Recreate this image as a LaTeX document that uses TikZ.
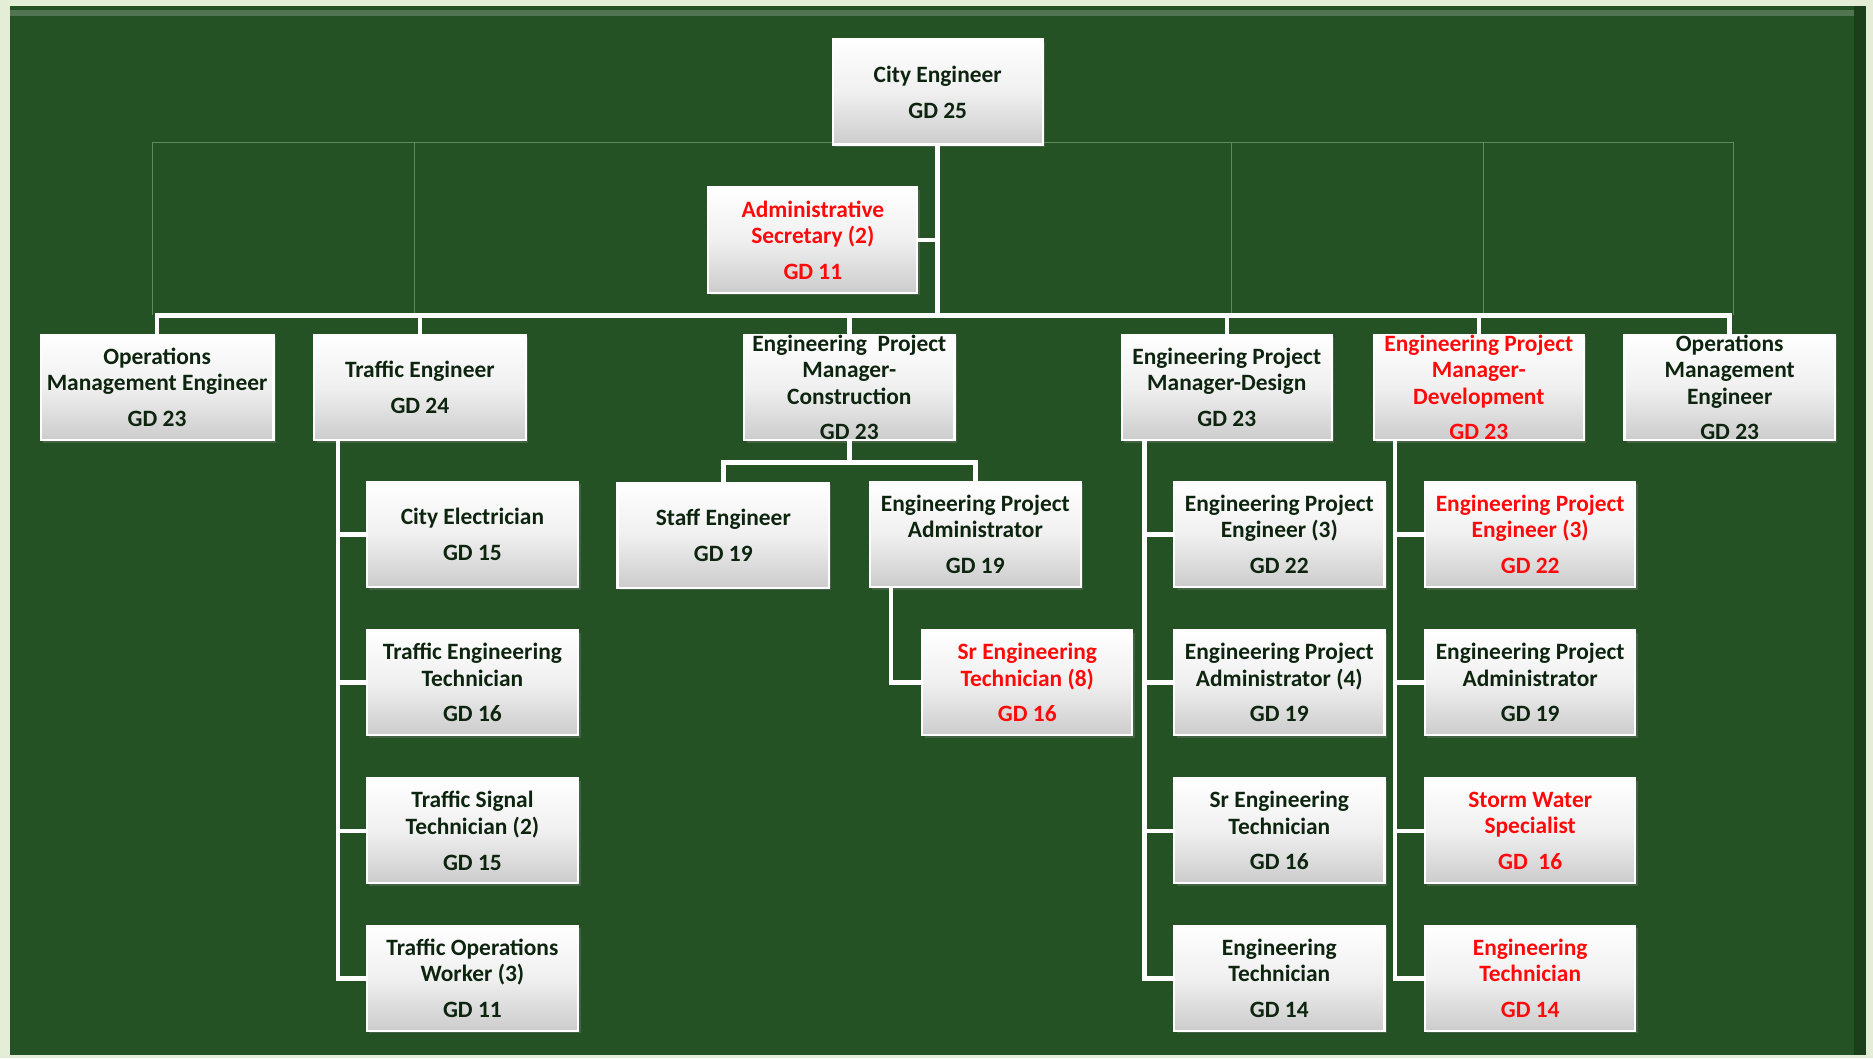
\documentclass[tikz,border=0pt]{standalone}
\usepackage{fontspec}
\setmainfont{Carlito}
\usetikzlibrary{shadows}
\definecolor{bggreen}{HTML}{245224}
\definecolor{bgdark}{HTML}{1B3F1B}
\definecolor{bglight}{HTML}{E4EDD6}
\definecolor{faint}{HTML}{5F8A5E}
\definecolor{txtdark}{HTML}{0D240E}
\definecolor{txtred}{HTML}{FF0A0A}
\begin{document}
\begin{tikzpicture}[x=1pt,y=-1pt,
  box/.style={draw=white, line width=1.8pt, top color=white, bottom color=black!20,
    middle color=black!6,
    minimum width=176pt, minimum height=88pt, inner sep=0pt, align=center,
    font=\fontsize{19.6}{22}\selectfont\bfseries, text=txtdark,
    drop shadow={shadow xshift=2pt, shadow yshift=-2pt, opacity=0.35}},
  redbox/.style={box, text=txtred},
  conn/.style={draw=white, line width=3.8pt},
  guide/.style={draw=faint, line width=0.7pt}]
\useasboundingbox (0,0) rectangle (1568,886);
\fill[bglight] (0,0) rectangle (1568,886);
\fill[bggreen] (8,5) rectangle (1562,883);
\fill[bgdark] (1552,5) rectangle (1562,883);
\fill[bggreen!80!white] (8,8) rectangle (1552,13);

% faint guide lines
\draw[guide] (128,264) -- (128,119) -- (697,119);
\draw[guide] (347,119) -- (347,264);
\draw[guide] (873,119) -- (1451,119) -- (1451,264);
\draw[guide] (1031,119) -- (1031,264);
\draw[guide] (1242,119) -- (1242,264);

% level 0/1
\node[box] (ce) at (785,77) {City Engineer\\[8pt]GD 25};
\node[redbox, minimum width=175pt] (as) at (680.5,201) {Administrative\\Secretary (2)\\[8pt]GD 11};

% level 2
\node[box, minimum width=195pt] (ome1) at (131.5,324.5) {Operations\\Management Engineer\\[8pt]GD 23};
\node[box, minimum width=177pt] (te) at (351.5,324.5) {Traffic Engineer\\[8pt]GD 24};
\node[box] (epmc) at (711,324.5) {Engineering~\ Project\\Manager-\\Construction\\[8pt]GD 23};
\node[box] (epmd) at (1027,324.5) {Engineering Project\\Manager-Design\\[8pt]GD 23};
\node[redbox] (epmv) at (1238,324.5) {Engineering Project\\Manager-\\Development\\[8pt]GD 23};
\node[box] (ome2) at (1448,324.5) {Operations\\Management\\Engineer\\[8pt]GD 23};

% traffic children
\node[box, minimum width=177pt] (cel) at (395.5,447.5) {City Electrician\\[8pt]GD 15};
\node[box, minimum width=177pt] (tet) at (395.5,571.5) {Traffic Engineering\\Technician\\[8pt]GD 16};
\node[box, minimum width=177pt] (tst) at (395.5,695.5) {Traffic Signal\\Technician (2)\\[8pt]GD 15};
\node[box, minimum width=177pt] (tow) at (395.5,819) {Traffic Operations\\Worker (3)\\[8pt]GD 11};

% construction children
\node[box, minimum width=177pt] (se) at (605.5,448) {Staff Engineer\\[8pt]GD 19};
\node[box, minimum width=177pt] (epa) at (816.5,447.5) {Engineering Project\\Administrator\\[8pt]GD 19};
\node[redbox] (set8) at (860,571.5) {Sr Engineering\\Technician (8)\\[8pt]GD 16};

% design children
\node[box] (dpe) at (1071,447.5) {Engineering Project\\Engineer (3)\\[8pt]GD 22};
\node[box] (dpa) at (1071,571.5) {Engineering Project\\Administrator (4)\\[8pt]GD 19};
\node[box] (dst) at (1071,695.5) {Sr Engineering\\Technician\\[8pt]GD 16};
\node[box] (det) at (1071,819) {Engineering\\Technician\\[8pt]GD 14};

% development children
\node[redbox] (vpe) at (1281,447.5) {Engineering Project\\Engineer (3)\\[8pt]GD 22};
\node[box] (vpa) at (1281,571.5) {Engineering Project\\Administrator\\[8pt]GD 19};
\node[redbox] (vsw) at (1281,695.5) {Storm Water\\Specialist\\[8pt]GD~ 16};
\node[redbox] (vet) at (1281,819) {Engineering\\Technician\\[8pt]GD 14};

% coordinates
\coordinate (bar) at (0,264);
\coordinate (cbar) at (0,387);
\coordinate (tx) at (283,0);
\coordinate (sx) at (746,0);
\coordinate (dx) at (958,0);
\coordinate (vx) at (1168,0);

% connectors
\draw[conn] (ce.south) -- (ce.south |- bar);
\draw[conn] (as.east) -- (as.east -| ce.south);
\draw[conn] (ome1.north) -- (ome1.north |- bar) -- (ome2.north |- bar) -- (ome2.north);
\draw[conn] (te.north) -- (te.north |- bar);
\draw[conn] (epmc.north) -- (epmc.north |- bar);
\draw[conn] (epmd.north) -- (epmd.north |- bar);
\draw[conn] (epmv.north) -- (epmv.north |- bar);

\draw[conn] (tx |- te.south) -- (tx |- tow.west) -- (tow.west);
\draw[conn] (cel.west) -- (cel.west -| tx);
\draw[conn] (tet.west) -- (tet.west -| tx);
\draw[conn] (tst.west) -- (tst.west -| tx);

\draw[conn] (epmc.south) -- (epmc.south |- cbar);
\draw[conn] (se.north) -- (se.north |- cbar) -- (epa.north |- cbar) -- (epa.north);
\draw[conn] (sx |- epa.south) -- (sx |- set8.west) -- (set8.west);

\draw[conn] (dx |- epmd.south) -- (dx |- det.west) -- (det.west);
\draw[conn] (dpe.west) -- (dpe.west -| dx);
\draw[conn] (dpa.west) -- (dpa.west -| dx);
\draw[conn] (dst.west) -- (dst.west -| dx);

\draw[conn] (vx |- epmv.south) -- (vx |- vet.west) -- (vet.west);
\draw[conn] (vpe.west) -- (vpe.west -| vx);
\draw[conn] (vpa.west) -- (vpa.west -| vx);
\draw[conn] (vsw.west) -- (vsw.west -| vx);
\end{tikzpicture}
\end{document}
